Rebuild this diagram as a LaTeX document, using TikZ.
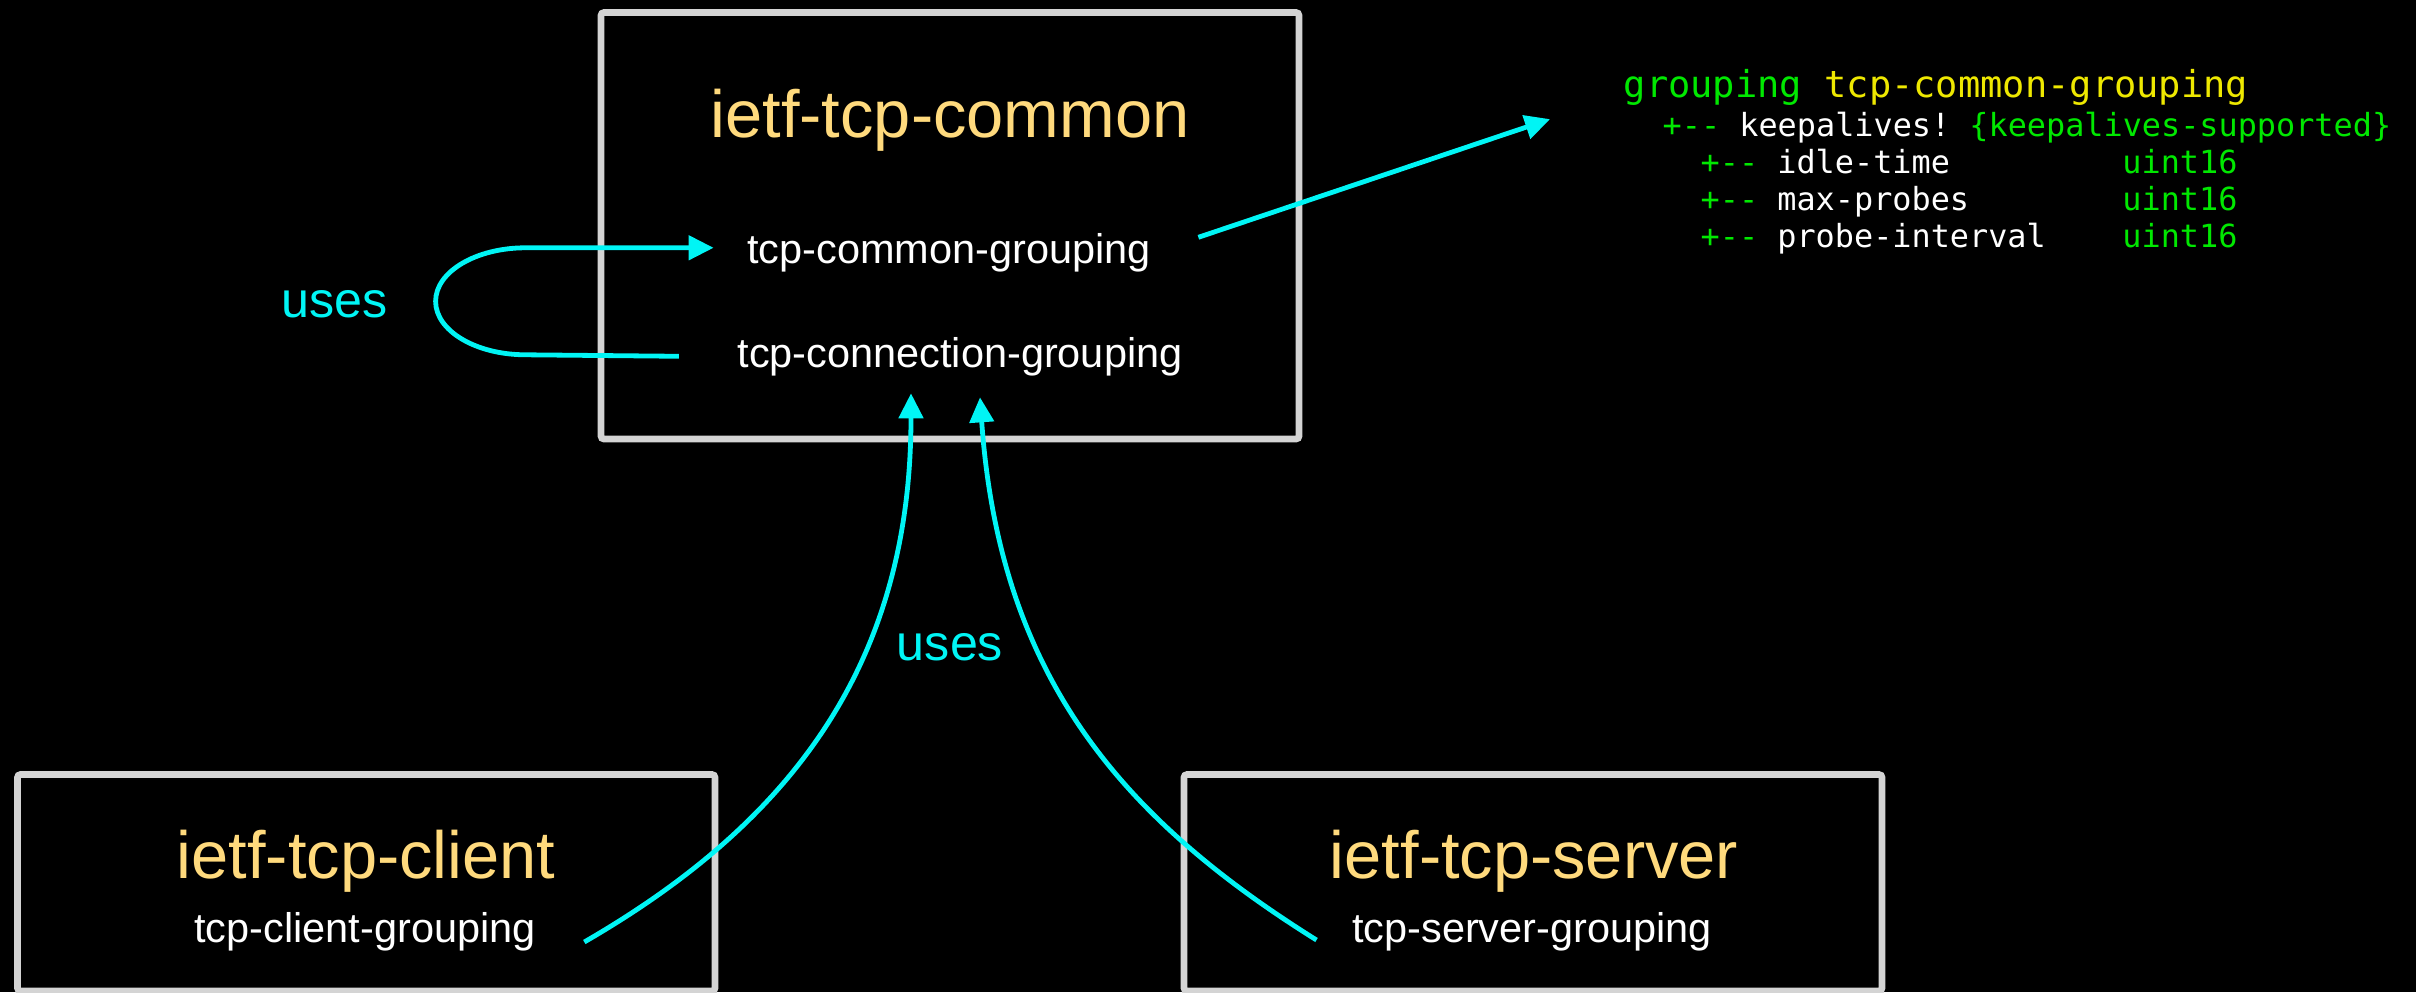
\documentclass[tikz,border=0pt]{standalone}
\usepackage{fontspec}
\setmainfont{Liberation Sans}
\setmonofont{DejaVu Sans Mono}
\usetikzlibrary{arrows.meta}
\definecolor{boxgrey}{RGB}{212,212,212}
\definecolor{titlegold}{RGB}{255,218,125}
\definecolor{usescyan}{RGB}{0,245,245}
\definecolor{codegreen}{RGB}{0,232,0}
\definecolor{codeyellow}{RGB}{238,232,0}

\begin{document}
\begin{tikzpicture}[
		>={Triangle[length=0.25cm,width=0.24cm]},
		modbox/.style={draw=boxgrey,line width=0.067cm,rounded corners=0.03cm,inner sep=0pt},
		modtitle/.style={text=titlegold,font=\fontsize{19}{22}\selectfont,inner sep=0pt,anchor=base},
		grp/.style={text=white,font=\fontsize{11.8}{14}\selectfont,inner sep=0pt,anchor=base},
		usesline/.style={draw=usescyan,line width=0.048cm},
		useslabel/.style={text=usescyan,font=\fontsize{14.3}{17}\selectfont,inner sep=0pt,anchor=base},
		codeline/.style={font=\ttfamily\fontsize{9.06}{11}\selectfont,text=white,inner sep=0pt,anchor=base west}
	]
		\useasboundingbox (0,0) rectangle (24.16,-9.92);
		\fill[black] (0,0) rectangle (24.16,-9.92);
		\node[modbox,minimum width=6.98cm,minimum height=4.265cm] (common) at (9.5,-2.2575) {};
		\node[modbox,minimum width=6.975cm,minimum height=2.165cm] (client) at (3.6625,-8.8275) {};
		\node[modbox,minimum width=6.98cm,minimum height=2.165cm] (server) at (15.33,-8.8275) {};
		\node[modtitle] (commonTitle) at (9.5,-1.37) {ietf-tcp-common};
		\node[modtitle] (clientTitle) at (3.66,-8.78) {ietf-tcp-client};
		\node[modtitle] (serverTitle) at (15.34,-8.78) {ietf-tcp-server};
		\node[grp] (commonGrp) at (9.49,-2.63) {tcp-common-grouping};
		\node[grp] (connGrp) at (9.6,-3.67) {tcp-connection-grouping};
		\node[grp] (clientGrp) at (3.65,-9.42) {tcp-client-grouping};
		\node[grp] (serverGrp) at (15.32,-9.42) {tcp-server-grouping};
		\node[useslabel] (usesSelf) at (3.35,-3.17) {uses};
		\node[useslabel] (usesUp) at (9.5,-6.6) {uses};
		\node[codeline,font=\ttfamily\fontsize{10.54}{12}\selectfont] (treeHead) at (16.23,-0.97) {\textcolor{codegreen}{grouping} \textcolor{codeyellow}{tcp-common-grouping}};
		\node[codeline] (treeKeep) at (16.62,-1.36) {\textcolor{codegreen}{+--} keepalives! \textcolor{codegreen}{\{keepalives-supported\}}};
		\node[codeline] (treeIdle) at (17.0,-1.73) {\textcolor{codegreen}{+--} idle-time\ \ \ \ \ \ \ \ \ \textcolor{codegreen}{uint16}};
		\node[codeline] (treeMax) at (17.0,-2.10) {\textcolor{codegreen}{+--} max-probes\ \ \ \ \ \ \ \ \textcolor{codegreen}{uint16}};
		\node[codeline] (treeProbe) at (17.0,-2.47) {\textcolor{codegreen}{+--} probe-interval\ \ \ \ \textcolor{codegreen}{uint16}};
		\draw[usesline,<-] ([xshift=-3.3mm,yshift=0.45mm]commonGrp.west) -- ++(-1.88,0) arc[start angle=90,end angle=270,x radius=0.9,y radius=0.535] -- ([xshift=-5.8mm]connGrp.west);
		\draw[usesline,->] ([xshift=4.7mm,yshift=1.5mm]commonGrp.east) -- ([xshift=-11.2mm,yshift=0.8mm]treeKeep.west);
		\draw[usesline,->] ([xshift=4.8mm]clientGrp.base east) .. controls +(30:2.4) and +(-90:2.7) .. ([xshift=-4.9mm,yshift=-1.7mm]connGrp.south);
		\draw[usesline,->] ([xshift=-3.5mm,yshift=0.2mm]serverGrp.base west) .. controls +(148:2.3) and +(-86:2.8) .. ([xshift=2mm,yshift=-2.1mm]connGrp.south);
	\end{tikzpicture}
\end{document}
